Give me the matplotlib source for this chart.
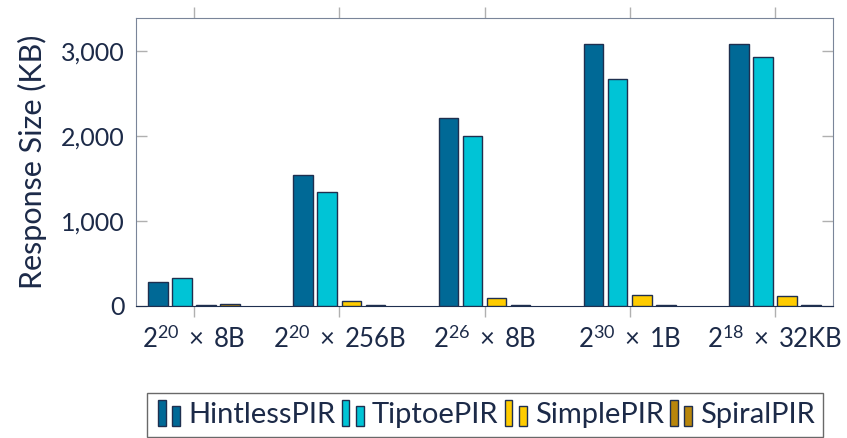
import matplotlib
matplotlib.use("Agg")
import matplotlib.pyplot as plt
import numpy as np
from matplotlib.legend_handler import HandlerBase
from matplotlib.patches import Rectangle

# data
categories = [r"$2^{20}\;\times\;$8B", r"$2^{20}\;\times\;$256B", r"$2^{26}\;\times\;$8B",
              r"$2^{30}\;\times\;$1B", r"$2^{18}\;\times\;$32KB"]
series = ["HintlessPIR", "TiptoePIR", "SimplePIR", "SpiralPIR"]
hintless = [286, 1541, 2215, 3086, 3086]
tiptoe = [333, 1337, 2000, 2674, 2929]
simple = [12, 62, 90, 126, 114]
spiral = [20, 15, 15, 15, 15]
values = [hintless, tiptoe, simple, spiral]

colors = ["#006996", "#00c4d6", "#ffcc00", "#b8860b"]
edge = "#1f2f4f"
textc = "#1c2a48"

plt.rcParams["font.family"] = ["Lato", "DejaVu Sans"]
plt.rcParams["mathtext.fontset"] = "custom"
plt.rcParams["mathtext.rm"] = "Lato"
plt.rcParams["mathtext.it"] = "Lato:italic"
plt.rcParams["mathtext.bf"] = "Lato:bold"


class TwoBars(HandlerBase):
    # pgfplots style legend: two small bars
    def create_artists(self, legend, orig, xd, yd, w, h, fontsize, trans):
        fc = orig.get_facecolor()
        r1 = Rectangle((xd + 0.08 * w, yd - 0.15 * h), 0.3 * w, 1.3 * h,
                       facecolor=fc, edgecolor=edge, lw=1, transform=trans)
        r2 = Rectangle((xd + 0.62 * w, yd - 0.15 * h), 0.3 * w, 1.0 * h,
                       facecolor=fc, edgecolor=edge, lw=1, transform=trans)
        return [r1, r2]


fig = plt.figure(figsize=(8.47, 4.38), dpi=100)
ax = fig.add_axes([0.1606, 0.3014, 0.8229, 0.6582])

x = np.arange(len(categories))
width = 0.135
step = 0.166
handles = []
for i, (name, vals) in enumerate(zip(series, values)):
    b = ax.bar(x + (i - 1.5) * step, vals, width=width, color=colors[i],
               edgecolor=edge, linewidth=1, label=name, zorder=3)
    handles.append(b.patches[0])

ax.set_xlim(-0.4, 4.4)
ax.set_ylim(0, 3390)
ax.set_yticks([0, 1000, 2000, 3000])
ax.set_yticklabels(["0", "1,000", "2,000", "3,000"])
ax.set_xticks(x)
ax.set_xticklabels(categories)

ax.tick_params(axis="y", direction="in", length=8, width=1, color="#b0b0b0",
               left=True, right=True, labelsize=18, labelcolor=textc, pad=8)
ax.tick_params(axis="x", direction="out", length=8, width=1, color="#b0b0b0",
               bottom=True, top=True, labelsize=18.5, labelcolor=textc, pad=6)

for s in ax.spines.values():
    s.set_color("#7a8599")
ax.spines["bottom"].set_color(edge)

ax.set_ylabel("Response Size (KB)", fontsize=22, color=textc, labelpad=10)

leg = fig.legend(handles, series, loc="upper center", bbox_to_anchor=(0.573, 0.102),
                 ncol=4, frameon=True, fancybox=False, handler_map={Rectangle: TwoBars()},
                 prop={"size": 21},
                 handlelength=0.9, handletextpad=0.2, columnspacing=0.15,
                 borderpad=0.3, borderaxespad=0)
leg.get_frame().set_edgecolor("#444444")
leg.get_frame().set_linewidth(1)
for t in leg.get_texts():
    t.set_color(textc)

fig.savefig("out.png", dpi=100)
